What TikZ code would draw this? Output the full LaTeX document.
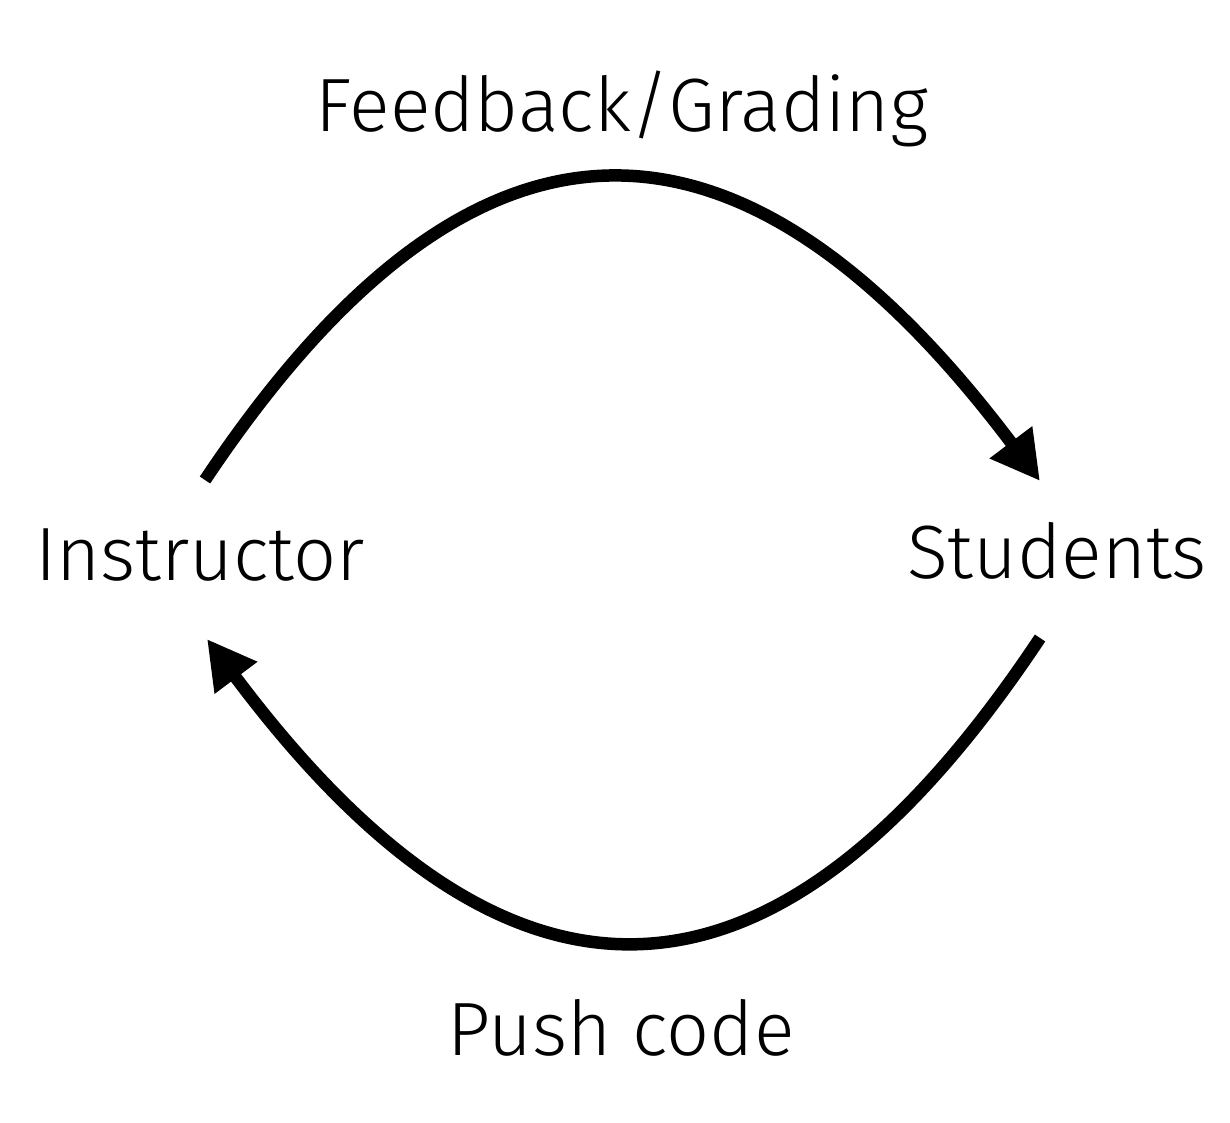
\documentclass[tikz,border=0pt]{standalone}
\usepackage{fontspec}
\setmainfont{Fira Sans}[UprightFont=* Light]
\usetikzlibrary{arrows.meta}
\begin{document}
\begin{tikzpicture}[x=0.02cm,y=-0.02cm,
  lbl/.style={font=\fontsize{43pt}{50pt}\selectfont, inner sep=0pt, anchor=base},
  flow/.style={line width=0.25cm, -{Triangle[length=0.97cm,width=1.0cm]}}]
\useasboundingbox (0,0) rectangle (1230,1122);
\node[lbl] (fb) at (622,132) {Feedback/Grading};
\node[lbl] (inst) at (200,580) {Instructor};
\node[lbl] (stud) at (1057,578) {Students};
\node[lbl] (push) at (621,1055) {Push code};
\coordinate (instout) at (205,480);
\coordinate (studin) at (1040,481);
\coordinate (studout) at (1040,638);
\coordinate (instin) at (207,639);
\draw[flow] (instout) .. controls (472,80) and (738,80) .. (studin);
\draw[flow] (studout) .. controls (773,1040) and (507,1040) .. (instin);
\end{tikzpicture}
\end{document}
